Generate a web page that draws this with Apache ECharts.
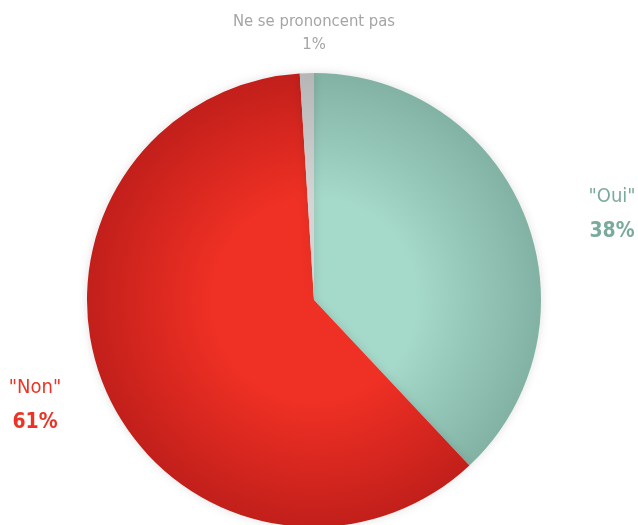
<!DOCTYPE html>
<html>
<head>
<meta charset="utf-8">
<script src="https://cdn.jsdelivr.net/npm/echarts@6/dist/echarts.min.js"></script>
<style>
html,body{margin:0;padding:0;background:#fff;}
#chart{width:638px;height:525px;}
</style>
</head>
<body>
<div id="chart"></div>
<script>
// Survey answers, clockwise from the top
const categories = ['Oui', 'Non', 'Ne se prononcent pas'];
const shares = [38, 61, 1];
const quoted = [true, true, false];

const centerColors = ['#a5d9ca', '#ef3024', '#d4d4d4'];
const edgeColors = ['#82b2a3', '#c21f1b', '#b6b6b6'];
const labelColors = ['#7aaa9c', '#ec3325', '#a5a5a5'];
const labelSpots = [[612, 214], [35, 405], [314, 33]];

const cx = 314, cy = 300, R = 227;

function radial(i) {
  return {
    type: 'radial', x: cx, y: cy, r: R, global: true,
    colorStops: [
      { offset: 0, color: centerColors[i] },
      { offset: 0.45, color: centerColors[i] },
      { offset: 1, color: edgeColors[i] }
    ]
  };
}

const font = '"DejaVu Sans Condensed", "DejaVu Sans", sans-serif';

const data = categories.map((name, i) => ({
  name,
  value: shares[i],
  itemStyle: { color: radial(i) },
  label: {
    formatter: (quoted[i] ? '{n|"' + name + '"}' : '{n|' + name + '}') + '\n' + (quoted[i] ? '{v|' : '{s|') + shares[i] + '%}',
    rich: {
      n: { color: labelColors[i], fontSize: 20, fontFamily: font, lineHeight: 35, align: 'center' },
      v: { color: labelColors[i], fontSize: 21, fontWeight: 'bold', fontFamily: font, lineHeight: 35, align: 'center' },
      s: { color: labelColors[i], fontSize: 16.5, fontFamily: font, lineHeight: 23, align: 'center' }
    }
  }
}));
data[2].label.rich.n.fontSize = 16.5;
data[2].label.rich.n.lineHeight = 23;

const chart = echarts.init(document.getElementById('chart'), null, { renderer: 'canvas' });
chart.setOption({
  backgroundColor: '#ffffff',
  animation: false,
  series: [{
    type: 'pie',
    center: [cx, cy],
    radius: [0, R],
    startAngle: 90,
    clockwise: true,
    avoidLabelOverlap: false,
    itemStyle: { shadowBlur: 10, shadowColor: 'rgba(0,0,0,0.12)' },
    label: { show: true, position: 'outside' },
    labelLine: { show: false },
    labelLayout: (p) => ({
      x: labelSpots[p.dataIndex][0],
      y: labelSpots[p.dataIndex][1],
      align: 'center',
      verticalAlign: 'middle'
    }),
    emphasis: { disabled: true },
    data
  }]
});
</script>
</body>
</html>
